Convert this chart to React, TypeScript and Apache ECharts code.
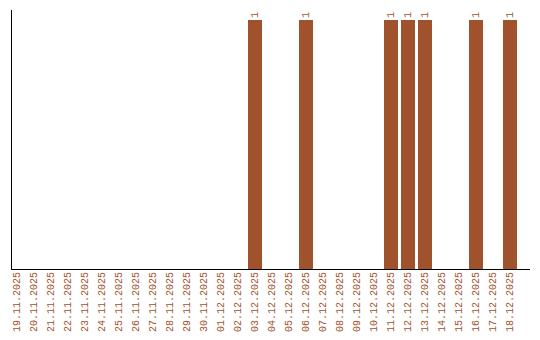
import React, { useEffect, useRef } from "react";
import * as echarts from "echarts";

const categories = [
  "19.11.2025", "20.11.2025", "21.11.2025", "22.11.2025", "23.11.2025",
  "24.11.2025", "25.11.2025", "26.11.2025", "27.11.2025", "28.11.2025",
  "29.11.2025", "30.11.2025", "01.12.2025", "02.12.2025", "03.12.2025",
  "04.12.2025", "05.12.2025", "06.12.2025", "07.12.2025", "08.12.2025",
  "09.12.2025", "10.12.2025", "11.12.2025", "12.12.2025", "13.12.2025",
  "14.12.2025", "15.12.2025", "16.12.2025", "17.12.2025", "18.12.2025",
];
const values: (number | null)[] = [
  null, null, null, null, null, null, null, null, null, null,
  null, null, null, null, 1, null, null, 1, null, null,
  null, null, 1, 1, 1, null, null, 1, null, 1,
];

const COLOR = "#A0522D";
const FONT = "Liberation Mono";

export default function App() {
  const ref = useRef<HTMLDivElement>(null);
  useEffect(() => {
    if (!ref.current) return;
    const chart = echarts.init(ref.current, null, { renderer: "svg" });
    chart.setOption({
      animation: false,
      grid: { left: 8.5, width: 510, top: 20, bottom: 71, containLabel: false },
      xAxis: {
        type: "category",
        data: categories,
        axisLine: { show: false },
        axisTick: { show: false },
        axisLabel: {
          rotate: 90,
          interval: 0,
          margin: 3,
          color: COLOR,
          fontFamily: FONT,
          fontSize: 10,
        },
      },
      yAxis: {
        type: "value",
        min: 0,
        max: 1,
        axisLine: { show: false },
        axisTick: { show: false },
        axisLabel: { show: false },
        splitLine: { show: false },
      },
      series: [
        {
          type: "bar",
          data: values,
          barWidth: 14,
          itemStyle: { color: COLOR },
          label: {
            show: true,
            position: "top",
            rotate: 90,
            align: "left",
            verticalAlign: "middle",
            distance: 2,
            color: COLOR,
            fontFamily: FONT,
            fontSize: 10,
          },
        },
      ],
      graphic: [
        {
          type: "line",
          shape: { x1: 11.5, y1: 10, x2: 11.5, y2: 269.5 },
          style: { stroke: "#000", lineWidth: 1 },
        },
        {
          type: "line",
          shape: { x1: 11, y1: 269.5, x2: 530, y2: 269.5 },
          style: { stroke: "#000", lineWidth: 1 },
        },
      ],
    });
    return () => chart.dispose();
  }, []);
  return <div ref={ref} style={{ width: 540, height: 340, position: "absolute", left: 0, top: 0 }} />;
}
